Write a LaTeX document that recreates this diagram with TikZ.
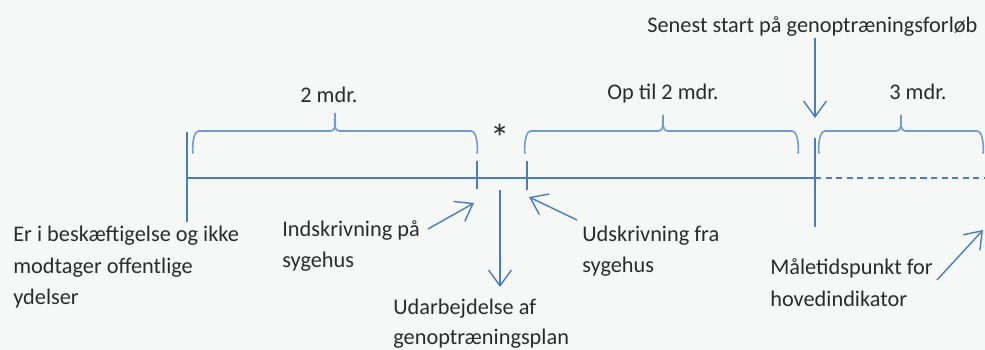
\documentclass[tikz,border=0pt]{standalone}
\usepackage{fontspec}
\setmainfont{Carlito}
\usetikzlibrary{arrows.meta}
\definecolor{bgc}{HTML}{F6F8F8}
\definecolor{linec}{HTML}{4A7CC2}
\definecolor{bracec}{HTML}{6E9AD6}
\definecolor{txtc}{HTML}{2B2B2B}
\tikzset{
  lbl/.style={anchor=base west, inner sep=0pt, text=txtc, font=\fontsize{12.7}{14}\selectfont},
  clbl/.style={anchor=base, inner sep=0pt, text=txtc, font=\fontsize{12.7}{14}\selectfont},
  tl/.style={draw=linec, line width=1.1pt},
  tick/.style={draw=linec, line width=1.1pt},
  bracestyle/.style={draw=bracec, line width=0.9pt},
  arr/.style={draw=linec, line width=0.8pt, -{Straight Barb[length=9pt,width=13pt,line width=0.8pt]}},
}
\begin{document}
\begin{tikzpicture}[x=0.2mm,y=-0.2mm]
\useasboundingbox[fill=bgc] (0,0) rectangle (985,350);
% timeline coordinates
\coordinate (t0) at (187,178);
\coordinate (tC) at (815,178);
\coordinate (tEnd) at (985,178);
\draw[tl] (t0) -- (tC);
\draw[tl, dash pattern=on 3.5pt off 2.5pt] (tC) -- (tEnd);
% ticks
\coordinate (k0a) at (187,132); \coordinate (k0b) at (187,222);
\coordinate (kAa) at (477,161); \coordinate (kAb) at (477,189);
\coordinate (kBa) at (527,161); \coordinate (kBb) at (527,190);
\coordinate (kCa) at (815,138); \coordinate (kCb) at (815,227);
\draw[tick] (k0a) -- (k0b);
\draw[tick] (kAa) -- (kAb);
\draw[tick] (kBa) -- (kBb);
\draw[tick] (kCa) -- (kCb);
% braces
\draw[bracestyle] (193,152) to[out=-90,in=180] (199,131) -- (330,131) to[out=0,in=-90] (335,113) to[out=-90,in=180] (340,131) -- (471,131) to[out=0,in=-90] (477,152);
\draw[bracestyle] (525,152) to[out=-90,in=180] (531,131) -- (658,131) to[out=0,in=-90] (663,115) to[out=-90,in=180] (668,131) -- (792,131) to[out=0,in=-90] (798,152);
\draw[bracestyle] (819,152) to[out=-90,in=180] (825,131) -- (896,131) to[out=0,in=-90] (901,115) to[out=-90,in=180] (906,131) -- (977,131) to[out=0,in=-90] (983,152);
% brace labels
\node[lbl] (l2mdr) at (300,103) {2 mdr.};
\node[lbl] (lop) at (607,100) {Op til 2 mdr.};
\node[lbl] (l3mdr) at (889,100) {3 mdr.};
\node[clbl, font=\fontsize{22}{22}\selectfont] (star) at (500,152) {*};
% top label and arrow
\node[lbl] (senest) at (647,33) {Senest start på genoptræningsforløb};
\coordinate (sA) at (815,38);
\coordinate (sB) at (815,118);
\draw[arr] (sA) -- (sB);
% down arrow
\coordinate (dA) at (500,190);
\coordinate (dB) at (500,287);
\draw[arr] (dA) -- (dB);
% texts below
\node[lbl] (er1) at (13,242) {Er i beskæftigelse og ikke};
\node[lbl] (er2) at (13,274) {modtager offentlige};
\node[lbl] (er3) at (13,305) {ydelser};
\node[lbl] (ind1) at (282,237) {Indskrivning på};
\node[lbl] (ind2) at (282,268) {sygehus};
\node[lbl] (uda1) at (393,315) {Udarbejdelse af};
\node[lbl] (uda2) at (393,345) {genoptræningsplan};
\node[lbl] (uds1) at (582,242) {Udskrivning fra};
\node[lbl] (uds2) at (582,273) {sygehus};
\node[lbl] (mal1) at (770,275) {Måletidspunkt for};
\node[lbl] (mal2) at (770,307) {hovedindikator};
% pointer arrows
\coordinate (iA) at (428,229); \coordinate (iB) at (474,203);
\draw[arr] (iA) -- (iB);
\coordinate (uA) at (577,220); \coordinate (uB) at (529,197);
\draw[arr] (uA) -- (uB);
\coordinate (mA) at (937,280); \coordinate (mB) at (983,230);
\draw[arr] (mA) -- (mB);
\end{tikzpicture}
\end{document}
